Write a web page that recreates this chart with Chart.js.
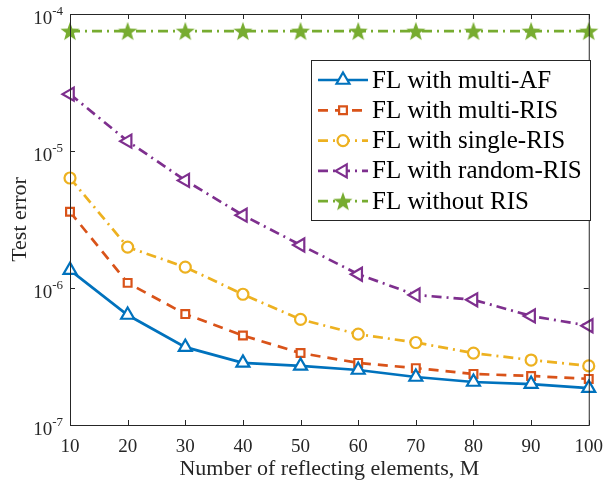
<!DOCTYPE html>
<html>
<head>
<meta charset="utf-8">
<script src="https://cdn.jsdelivr.net/npm/chart.js@4.4.0/dist/chart.umd.min.js"></script>
<style>
  html, body { margin: 0; padding: 0; background: #ffffff; }
  #wrap { width: 606px; height: 482px; position: relative; }
</style>
</head>
<body>
<div id="wrap"><canvas id="graphCanvas" width="606" height="482"></canvas></div>
<script>
// number of reflecting elements
var elements = [10, 20, 30, 40, 50, 60, 70, 80, 90, 100];
// test error for each scheme
var multiAF   = [1.35e-6, 6.35e-7, 3.7e-7, 2.84e-7, 2.7e-7, 2.52e-7, 2.24e-7, 2.06e-7, 1.99e-7, 1.86e-7];
var multiRIS  = [3.6e-6, 1.09e-6, 6.45e-7, 4.5e-7, 3.35e-7, 2.84e-7, 2.6e-7, 2.36e-7, 2.28e-7, 2.17e-7];
var singleRIS = [6.35e-6, 1.99e-6, 1.42e-6, 9.0e-7, 5.9e-7, 4.6e-7, 4.0e-7, 3.35e-7, 2.98e-7, 2.7e-7];
var randomRIS = [2.6e-5, 1.18e-5, 6.1e-6, 3.4e-6, 2.06e-6, 1.26e-6, 8.9e-7, 8.2e-7, 6.25e-7, 5.3e-7];
var withoutRIS = [7.5e-5, 7.5e-5, 7.5e-5, 7.5e-5, 7.5e-5, 7.5e-5, 7.5e-5, 7.5e-5, 7.5e-5, 7.5e-5];
var seriesNames = ['FL with multi-AF', 'FL with multi-RIS', 'FL with single-RIS', 'FL with random-RIS', 'FL without RIS'];
var yTicks = [1e-7, 1e-6, 1e-5, 1e-4];
var yExp = ['-7', '-6', '-5', '-4'];

var FONT = '"Liberation Serif", "Times New Roman", serif';
var AXIS = '#262626';

// filled five point star marker
function makeStar(color) {
    var c = document.createElement('canvas');
    c.width = 22; c.height = 22;
    var g = c.getContext('2d');
    g.beginPath();
    for (var k = 0; k < 10; k++) {
        var r = (k % 2 === 0) ? 10 : 4.1;
        var a = -Math.PI / 2 + k * Math.PI / 5;
        var px = 11 + r * Math.cos(a), py = 11.8 + r * Math.sin(a);
        if (k === 0) g.moveTo(px, py); else g.lineTo(px, py);
    }
    g.closePath();
    g.fillStyle = color;
    g.fill();
    return c;
}
var starImg = makeStar('#77AC30');

function toPoints(arr) {
    var out = [];
    for (var i = 0; i < elements.length; i++) out.push({x: elements[i], y: arr[i]});
    return out;
}

var datasets = [
    {label: seriesNames[0], data: toPoints(multiAF), borderColor: '#0072BD', borderDash: [],
     pointStyle: 'triangle', pointRadius: 7.5, pointRotation: 0},
    {label: seriesNames[1], data: toPoints(multiRIS), borderColor: '#D95319', borderDash: [10, 7],
     pointStyle: 'rect', pointRadius: 5.5, pointRotation: 0},
    {label: seriesNames[2], data: toPoints(singleRIS), borderColor: '#EDB120', borderDash: [10, 5, 2, 5],
     pointStyle: 'circle', pointRadius: 5.5, pointRotation: 0},
    {label: seriesNames[3], data: toPoints(randomRIS), borderColor: '#7E2F8E', borderDash: [10, 5, 2, 5],
     pointStyle: 'triangle', pointRadius: 7.5, pointRotation: -90},
    {label: seriesNames[4], data: toPoints(withoutRIS), borderColor: '#77AC30', borderDash: [10, 5, 2, 5],
     pointStyle: starImg, pointRadius: 10, pointRotation: 0}
];
datasets.forEach(function (d) {
    d.borderWidth = 2.7;
    d.pointBorderColor = d.borderColor;
    d.pointBackgroundColor = '#ffffff';
    d.pointBorderWidth = 2.2;
    d.backgroundColor = d.borderColor;
    d.fill = false;
    d.tension = 0;
    d.clip = false;
});

// box, inward ticks, y labels with superscripts, legend
var matlabAxes = {
    id: 'matlabAxes',
    afterDraw: function (chart) {
        var ctx = chart.ctx, a = chart.chartArea;
        var xs = chart.scales.x, ys = chart.scales.y;
        ctx.save();
        ctx.strokeStyle = AXIS;
        ctx.lineWidth = 1;
        ctx.setLineDash([]);
        ctx.strokeRect(a.left + 0.5, a.top + 0.5, a.right - a.left, a.bottom - a.top);
        ctx.beginPath();
        elements.forEach(function (v) {
            var px = Math.round(xs.getPixelForValue(v)) + 0.5;
            ctx.moveTo(px, a.bottom); ctx.lineTo(px, a.bottom - 5);
            ctx.moveTo(px, a.top); ctx.lineTo(px, a.top + 5);
        });
        yTicks.forEach(function (v) {
            var py = Math.round(ys.getPixelForValue(v)) + 0.5;
            ctx.moveTo(a.left, py); ctx.lineTo(a.left + 5, py);
            ctx.moveTo(a.right, py); ctx.lineTo(a.right - 5, py);
        });
        ctx.stroke();

        // y tick labels
        ctx.fillStyle = AXIS;
        ctx.textBaseline = 'alphabetic';
        yTicks.forEach(function (v, i) {
            var py = ys.getPixelForValue(v);
            ctx.font = '13px ' + FONT;
            var ew = ctx.measureText(yExp[i]).width;
            ctx.textAlign = 'left';
            ctx.fillText(yExp[i], a.left - 7 - ew, py + 1);
            ctx.font = '19px ' + FONT;
            ctx.textAlign = 'right';
            ctx.fillText('10', a.left - 7 - ew, py + 10);
        });

        // y title
        ctx.save();
        ctx.translate(20, (a.top + a.bottom) / 2);
        ctx.rotate(-Math.PI / 2);
        ctx.textAlign = 'center';
        ctx.textBaseline = 'middle';
        ctx.font = '22px ' + FONT;
        ctx.fillText('Test error', 0, 0);
        ctx.restore();

        // legend
        var lx = 311, ly = 60, lw = 279, lh = 160;
        ctx.fillStyle = '#ffffff';
        ctx.fillRect(lx, ly, lw, lh);
        ctx.strokeRect(lx + 0.5, ly + 0.5, lw, lh);
        chart.data.datasets.forEach(function (d, i) {
            var ry = 80 + i * 30.3;
            ctx.strokeStyle = d.borderColor;
            ctx.lineWidth = 2.7;
            ctx.setLineDash(d.borderDash);
            ctx.beginPath();
            ctx.moveTo(318, ry); ctx.lineTo(368, ry);
            ctx.stroke();
            ctx.setLineDash([]);
            ctx.lineWidth = 2.2;
            ctx.fillStyle = '#ffffff';
            Chart.helpers.drawPoint(ctx, {pointStyle: d.pointStyle, radius: d.pointRadius,
                rotation: d.pointRotation, borderWidth: 2.2}, 343, ry);
            ctx.fillStyle = '#000000';
            ctx.font = '25px ' + FONT;
            ctx.textAlign = 'left';
            ctx.textBaseline = 'middle';
            ctx.fillText(d.label, 372, ry + 1);
        });
        ctx.restore();
    }
};

new Chart(document.getElementById('graphCanvas'), {
    type: 'line',
    data: {datasets: datasets},
    plugins: [matlabAxes],
    options: {
        responsive: false,
        animation: false,
        devicePixelRatio: 1,
        layout: {padding: {top: 14, right: 15, left: 0, bottom: 0}},
        plugins: {legend: {display: false}, tooltip: {enabled: false}},
        scales: {
            x: {
                type: 'linear', min: 10, max: 100,
                grid: {display: false}, border: {display: false},
                afterBuildTicks: function (s) { s.ticks = elements.map(function (v) { return {value: v}; }); },
                afterFit: function (s) { s.height = 57; },
                ticks: {color: AXIS, font: {family: FONT, size: 19}, padding: 3, maxRotation: 0},
                title: {display: true, text: 'Number of reflecting elements, M', color: AXIS,
                        font: {family: FONT, size: 22}, padding: {top: 0, bottom: 0}}
            },
            y: {
                type: 'logarithmic', min: 1e-7, max: 1e-4,
                grid: {display: false}, border: {display: false},
                afterBuildTicks: function (s) { s.ticks = yTicks.map(function (v) { return {value: v}; }); },
                afterFit: function (s) { s.width = 70; },
                ticks: {display: false}
            }
        }
    }
});
</script>
</body>
</html>
